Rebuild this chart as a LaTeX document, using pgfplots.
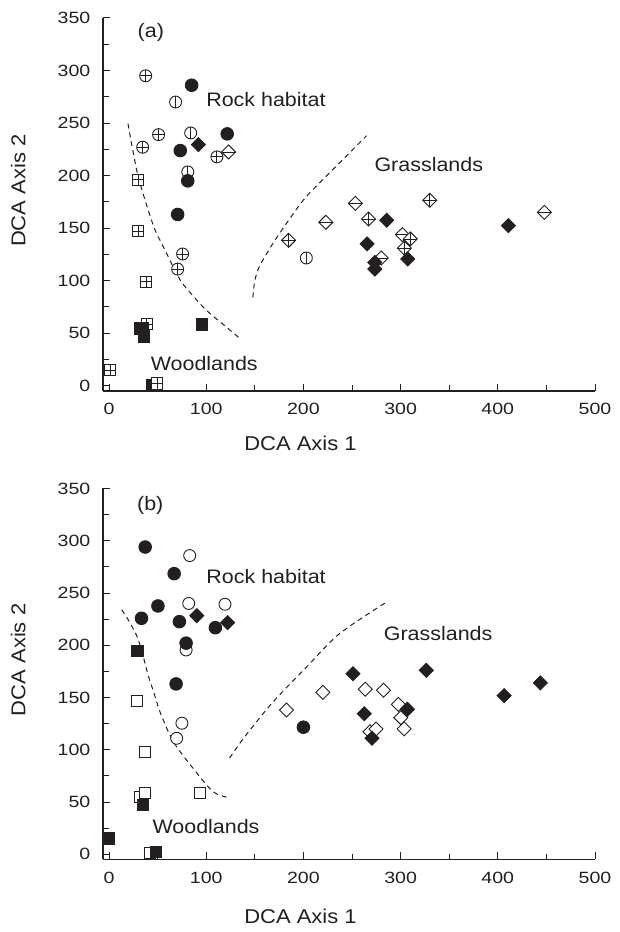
\documentclass[border=0pt]{standalone}
\usepackage{pgfplots}
\pgfplotsset{compat=1.18}
\usepackage{fontspec}
\setmainfont{Liberation Sans}[FakeStretch=1.1]
\newfontfamily\tickfont{Liberation Sans}[FakeStretch=1.2]
\definecolor{ink}{RGB}{35,31,32}

\pgfdeclareplotmark{cplus}{%
  \pgfpathcircle{\pgfpointorigin}{\pgfplotmarksize}\pgfusepathqfillstroke
  \pgfpathmoveto{\pgfqpoint{-\pgfplotmarksize}{0pt}}\pgfpathlineto{\pgfqpoint{\pgfplotmarksize}{0pt}}%
  \pgfpathmoveto{\pgfqpoint{0pt}{-\pgfplotmarksize}}\pgfpathlineto{\pgfqpoint{0pt}{\pgfplotmarksize}}%
  \pgfusepathqstroke}
\pgfdeclareplotmark{cvbar}{%
  \pgfpathcircle{\pgfpointorigin}{\pgfplotmarksize}\pgfusepathqfillstroke
  \pgfpathmoveto{\pgfqpoint{0pt}{-\pgfplotmarksize}}\pgfpathlineto{\pgfqpoint{0pt}{\pgfplotmarksize}}%
  \pgfusepathqstroke}
\pgfdeclareplotmark{circ}{%
  \pgfpathcircle{\pgfpointorigin}{\pgfplotmarksize}\pgfusepathqfillstroke}
\pgfdeclareplotmark{sq}{%
  \pgfpathrectangle{\pgfqpoint{-\pgfplotmarksize}{-\pgfplotmarksize}}{\pgfqpoint{2\pgfplotmarksize}{2\pgfplotmarksize}}\pgfusepathqfillstroke}
\pgfdeclareplotmark{sqplus}{%
  \pgfpathrectangle{\pgfqpoint{-\pgfplotmarksize}{-\pgfplotmarksize}}{\pgfqpoint{2\pgfplotmarksize}{2\pgfplotmarksize}}\pgfusepathqfillstroke
  \pgfpathmoveto{\pgfqpoint{-\pgfplotmarksize}{0pt}}\pgfpathlineto{\pgfqpoint{\pgfplotmarksize}{0pt}}%
  \pgfpathmoveto{\pgfqpoint{0pt}{-\pgfplotmarksize}}\pgfpathlineto{\pgfqpoint{0pt}{\pgfplotmarksize}}%
  \pgfusepathqstroke}
\pgfdeclareplotmark{dmd}{%
  \pgfpathmoveto{\pgfqpoint{0pt}{\pgfplotmarksize}}\pgfpathlineto{\pgfqpoint{\pgfplotmarksize}{0pt}}%
  \pgfpathlineto{\pgfqpoint{0pt}{-\pgfplotmarksize}}\pgfpathlineto{\pgfqpoint{-\pgfplotmarksize}{0pt}}%
  \pgfpathclose\pgfusepathqfillstroke}
\pgfdeclareplotmark{dplus}{%
  \pgfpathmoveto{\pgfqpoint{0pt}{\pgfplotmarksize}}\pgfpathlineto{\pgfqpoint{\pgfplotmarksize}{0pt}}%
  \pgfpathlineto{\pgfqpoint{0pt}{-\pgfplotmarksize}}\pgfpathlineto{\pgfqpoint{-\pgfplotmarksize}{0pt}}%
  \pgfpathclose\pgfusepathqfillstroke
  \pgfpathmoveto{\pgfqpoint{-\pgfplotmarksize}{0pt}}\pgfpathlineto{\pgfqpoint{\pgfplotmarksize}{0pt}}%
  \pgfpathmoveto{\pgfqpoint{0pt}{-\pgfplotmarksize}}\pgfpathlineto{\pgfqpoint{0pt}{\pgfplotmarksize}}%
  \pgfusepathqstroke}
\pgfdeclareplotmark{dhbar}{%
  \pgfpathmoveto{\pgfqpoint{0pt}{\pgfplotmarksize}}\pgfpathlineto{\pgfqpoint{\pgfplotmarksize}{0pt}}%
  \pgfpathlineto{\pgfqpoint{0pt}{-\pgfplotmarksize}}\pgfpathlineto{\pgfqpoint{-\pgfplotmarksize}{0pt}}%
  \pgfpathclose\pgfusepathqfillstroke
  \pgfpathmoveto{\pgfqpoint{-\pgfplotmarksize}{0pt}}\pgfpathlineto{\pgfqpoint{\pgfplotmarksize}{0pt}}%
  \pgfusepathqstroke}

\tikzset{ann/.style={font=\fontsize{19.5}{22}\selectfont, text=ink}}
\pgfplotsset{
  dca/.style={
    width=492pt, scale only axis,
    xmin=-6.2, xmax=500, ymin=-5, ymax=350,
    axis x line=bottom, axis y line=left,
    axis line style={ink, line width=1.1pt, -},
    every outer x axis line/.append style={-},
    every outer y axis line/.append style={-},
    tick align=inside,
    major tick length=7pt, minor tick length=5.5pt,
    tick style={ink, line width=1pt},
    xtick={0,100,...,500}, ytick={0,50,...,350},
    minor x tick num=1, minor y tick num=1,
    /pgf/number format/assume math mode=true,
    ticklabel style={font=\tickfont\fontsize{16.3}{18}\selectfont, text=ink},
    xticklabel style={inner sep=0pt, yshift=-12pt},
    yticklabel style={inner sep=0pt, xshift=-12.5pt},
    label style={font=\fontsize{20}{22}\selectfont, text=ink},
    xlabel={DCA Axis 1}, ylabel={DCA Axis 2},
    clip=false,
  },
  bnd/.style={ink, line width=1pt, dash pattern=on 5pt off 4pt, smooth, no markers},
  openm/.style={only marks, mark options={draw=ink, fill=white, line width=0.9pt}},
  fillm/.style={only marks, mark options={draw=ink, fill=ink, line width=0.9pt}},
}

\begin{document}
\begin{tikzpicture}
\path[use as bounding box] (0,0) rectangle (619pt,932pt);

% ---------------- Panel (a)
\begin{axis}[dca, height=373pt, at={(103pt,541pt)}, anchor=south west,
  xlabel style={at={(axis description cs:0.4014,-0.1415)}, anchor=center},
  ylabel style={at={(axis description cs:-0.1725,0.537)}, anchor=center}]
\addplot[bnd] coordinates {(19.5,249.5) (24.3,224.8) (30,199) (38,174) (47,149) (56,132) (73,101) (87,85) (100,72) (114,61) (136,44)};
\addplot[bnd] coordinates {(148,84) (150,100) (155,114) (169,136) (186,159) (203,180) (237,212) (265,238)};
% squares
\addplot[openm, mark=sqplus, mark size=5.6pt] coordinates {(30,196) (30,147) (38,99) (38.7,58.7) (1,15)};
\addplot[fillm, mark=sq, mark size=5.7pt] coordinates {(32,54.5) (34.6,55) (36,47) (95.6,58.4) (44,0.6)};
\addplot[openm, mark=sqplus, mark size=5.6pt] coordinates {(49.7,2.2)};
% circles
\addplot[openm, mark=cplus, mark size=6pt] coordinates {(37.7,295) (51,239) (34.6,227) (111,217.8) (75.7,125.4) (70.6,111)};
\addplot[openm, mark=cvbar, mark size=6pt] coordinates {(68.5,270) (84,240.6) (81,203.5) (203,121.6)};
\addplot[fillm, mark=circ, mark size=6.3pt] coordinates {(85,286) (121.6,239.7) (73.3,223.8) (81,195) (70.6,163)};
% diamonds
\addplot[openm, mark=dhbar, mark size=7pt] coordinates {(123,222.5) (223,155.5) (253.5,173.6) (280,121.6) (301.8,143.8) (447.8,165)};
\addplot[openm, mark=dplus, mark size=7pt] coordinates {(184.7,138.4) (267,158.7) (310,139.7) (303.8,131) (330,176.5)};
\addplot[fillm, mark=dmd, mark size=7pt] coordinates {(92,229.5) (285.7,157.5) (265.5,135) (273.4,117.4) (273.4,111) (307.3,120.6) (410.8,152.4)};
\node[ann] at (axis cs:43,335.8) {(a)};
\node[ann] at (axis cs:161.4,272) {Rock habitat};
\node[ann] at (axis cs:329,210.5) {Grasslands};
\node[ann] at (axis cs:98,21.6) {Woodlands};
\end{axis}

% ---------------- Panel (b)
\begin{axis}[dca, height=371pt, at={(103pt,72.5pt)}, anchor=south west,
  xlabel style={at={(axis description cs:0.4014,-0.152)}, anchor=center},
  ylabel style={at={(axis description cs:-0.1725,0.538)}, anchor=center}]
\addplot[bnd] coordinates {(13,234) (20,224) (29,208) (35,190) (40,172) (46,155) (53,135) (66,108) (85,84) (107,60) (124,54)};
\addplot[bnd] coordinates {(124,92) (140,113) (169,146) (203,179) (237,211) (285,241)};
% squares
\addplot[openm, mark=sq, mark size=5.6pt] coordinates {(28.7,147) (36.9,98.2) (32,54.5) (36.9,58.4) (93.6,58.4) (42.4,1.5)};
\addplot[fillm, mark=sq, mark size=5.7pt] coordinates {(29.4,194.8) (34.9,47.2) (0,15.3) (48.2,2.5)};
% circles
\addplot[openm, mark=circ, mark size=6pt] coordinates {(83,285.8) (82,240) (119.3,239.2) (79.3,195.5) (75,125.4) (69.6,111)};
\addplot[fillm, mark=circ, mark size=6.3pt] coordinates {(37.2,294) (67,268.5) (50.3,237.6) (33.4,225.8) (72.4,222.6) (109.4,216.8) (79.3,202) (69,163) (200,121.6)};
% diamonds
\addplot[openm, mark=dmd, mark size=7pt] coordinates {(182.6,138) (220,155) (263.6,157.9) (282.4,157) (268.5,117.3) (274.6,119.9) (297.7,143.5) (300.2,130.7) (303.6,120)};
\addplot[fillm, mark=dmd, mark size=7pt] coordinates {(90.3,228.3) (122,221.6) (251,172.8) (262.6,134.5) (270.6,111) (307,138.8) (326.4,176) (406.5,151.8) (443.7,164)};
\node[ann] at (axis cs:42.4,334) {(b)};
\node[ann] at (axis cs:161.6,265.6) {Rock habitat};
\node[ann] at (axis cs:338.6,211.5) {Grasslands};
\node[ann] at (axis cs:99.8,26.4) {Woodlands};
\end{axis}
\end{tikzpicture}
\end{document}
